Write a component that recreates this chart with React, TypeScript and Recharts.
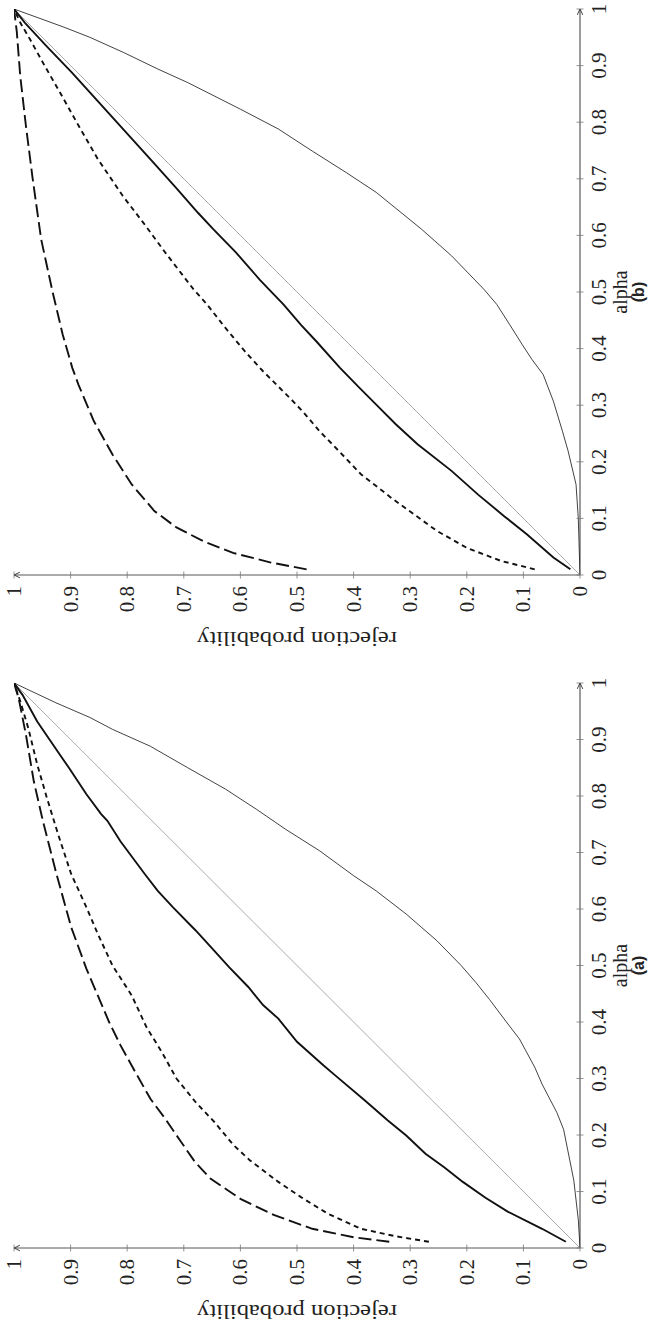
import React from 'react';
import { LineChart, Line, XAxis, YAxis } from 'recharts';

// ---------- tick values ----------
const TICKS = [0, 0.1, 0.2, 0.3, 0.4, 0.5, 0.6, 0.7, 0.8, 0.9, 1];

// ---------- panel (a) ----------
const diagAlpha = [0, 1];
const diagRej = [0, 1];

const thinA_alpha = [0, 0.05, 0.12, 0.21, 0.24, 0.29, 0.32, 0.37, 0.4, 0.44, 0.47, 0.5, 0.544, 0.591, 0.632, 0.659, 0.703, 0.741, 0.776, 0.812, 0.85, 0.888, 0.918, 0.939, 0.965, 1];
const thinA_rej = [0, 0.003, 0.011, 0.029, 0.041, 0.067, 0.08, 0.107, 0.13, 0.16, 0.184, 0.21, 0.253, 0.307, 0.36, 0.4, 0.46, 0.52, 0.571, 0.626, 0.693, 0.759, 0.826, 0.866, 0.926, 1];

const thickA_alpha = [0.011, 0.034, 0.064, 0.089, 0.117, 0.143, 0.167, 0.199, 0.226, 0.261, 0.306, 0.323, 0.365, 0.406, 0.43, 0.462, 0.497, 0.526, 0.562, 0.603, 0.632, 0.662, 0.72, 0.756, 0.768, 0.803, 0.85, 0.876, 0.932, 0.979, 1];
const thickA_rej = [0.025, 0.067, 0.127, 0.167, 0.207, 0.24, 0.273, 0.307, 0.34, 0.38, 0.433, 0.453, 0.5, 0.533, 0.56, 0.586, 0.62, 0.646, 0.679, 0.719, 0.746, 0.769, 0.812, 0.835, 0.846, 0.872, 0.903, 0.921, 0.959, 0.985, 1];

const dotA_alpha = [0.011, 0.021, 0.034, 0.061, 0.09, 0.117, 0.155, 0.182, 0.223, 0.258, 0.3, 0.347, 0.391, 0.447, 0.5, 0.556, 0.603, 0.662, 0.732, 0.797, 0.856, 0.921, 0.968, 1];
const dotA_rej = [0.267, 0.327, 0.387, 0.446, 0.493, 0.533, 0.583, 0.612, 0.646, 0.679, 0.713, 0.739, 0.766, 0.792, 0.826, 0.852, 0.872, 0.899, 0.922, 0.942, 0.959, 0.975, 0.989, 1];

const dashA_alpha = [0.011, 0.019, 0.034, 0.058, 0.087, 0.123, 0.152, 0.188, 0.229, 0.264, 0.312, 0.359, 0.4, 0.447, 0.494, 0.568, 0.662, 0.756, 0.826, 0.909, 0.974, 1];
const dashA_rej = [0.337, 0.4, 0.473, 0.54, 0.6, 0.653, 0.68, 0.705, 0.733, 0.759, 0.786, 0.812, 0.832, 0.852, 0.872, 0.899, 0.925, 0.949, 0.965, 0.979, 0.992, 1];

// ---------- panel (b) ----------
const thinB_alpha = [0, 0.1, 0.16, 0.219, 0.254, 0.307, 0.354, 0.381, 0.407, 0.442, 0.478, 0.505, 0.564, 0.611, 0.676, 0.711, 0.749, 0.788, 0.823, 0.87, 0.894, 0.923, 0.95, 0.968, 1];
const thinB_rej = [0, 0.003, 0.007, 0.021, 0.031, 0.047, 0.065, 0.085, 0.102, 0.124, 0.147, 0.17, 0.227, 0.28, 0.36, 0.413, 0.473, 0.533, 0.6, 0.693, 0.746, 0.806, 0.866, 0.912, 1];

const thickB_alpha = [0.01, 0.031, 0.072, 0.104, 0.142, 0.184, 0.231, 0.266, 0.301, 0.331, 0.366, 0.413, 0.442, 0.478, 0.505, 0.522, 0.57, 0.611, 0.64, 0.682, 0.729, 0.773, 0.835, 0.888, 0.935, 0.976, 1];
const thickB_rej = [0.017, 0.047, 0.094, 0.134, 0.18, 0.227, 0.287, 0.325, 0.36, 0.39, 0.424, 0.466, 0.493, 0.524, 0.55, 0.566, 0.608, 0.648, 0.675, 0.712, 0.754, 0.794, 0.85, 0.898, 0.943, 0.981, 1];

const dotB_alpha = [0.01, 0.025, 0.048, 0.078, 0.107, 0.136, 0.178, 0.219, 0.254, 0.289, 0.31, 0.36, 0.395, 0.436, 0.478, 0.505, 0.57, 0.623, 0.67, 0.735, 0.794, 0.853, 0.9, 0.947, 0.976, 1];
const dotB_rej = [0.08, 0.14, 0.2, 0.253, 0.293, 0.333, 0.387, 0.426, 0.46, 0.49, 0.51, 0.56, 0.592, 0.626, 0.659, 0.683, 0.733, 0.772, 0.808, 0.852, 0.886, 0.919, 0.946, 0.972, 0.989, 1];

const dashB_alpha = [0.01, 0.022, 0.039, 0.06, 0.084, 0.113, 0.16, 0.213, 0.272, 0.336, 0.366, 0.425, 0.501, 0.593, 0.7, 0.794, 0.882, 0.959, 1];
const dashB_rej = [0.483, 0.546, 0.613, 0.666, 0.713, 0.752, 0.792, 0.826, 0.859, 0.886, 0.897, 0.914, 0.932, 0.952, 0.967, 0.979, 0.989, 0.995, 1];

const toPts = (xs: number[], ys: number[]) => xs.map((x, i) => ({ x, y: ys[i] }));

const SERIF = '"Liberation Serif", "DejaVu Serif", serif';
const SANS = '"Liberation Sans", Arial, sans-serif';
const fmt = (v: number) => String(Number(v.toFixed(1)));

const XTick = (props: any) => {
  const { x, y, payload } = props;
  const axisY = y - 11;
  return (
    <g>
      <line x1={x} x2={x} y1={axisY - 3.5} y2={axisY + 3.5} stroke="#777" strokeWidth={0.8} />
      <text x={x} y={y} textAnchor="middle" dominantBaseline="hanging" fontFamily={SERIF} fontSize={21} fill="#222">
        {fmt(payload.value)}
      </text>
    </g>
  );
};

const YTick = (props: any) => {
  const { x, y, payload } = props;
  const axisX = x + 11;
  return (
    <g>
      <line x1={axisX - 3.5} x2={axisX + 3.5} y1={y} y2={y} stroke="#777" strokeWidth={0.8} />
      <text x={x} y={y} textAnchor="end" dominantBaseline="central" fontFamily={SERIF} fontSize={21} fill="#222">
        {fmt(payload.value)}
      </text>
    </g>
  );
};

type PanelProps = {
  id: string;
  caption: string;
  width: number;
  margin: { top: number; right: number; bottom: number; left: number };
  thin: { x: number; y: number }[];
  thick: { x: number; y: number }[];
  dot: { x: number; y: number }[];
  dash: { x: number; y: number }[];
};

const Panel = ({ id, caption, width, margin, thin, thick, dot, dash }: PanelProps) => {
  const diag = toPts(diagAlpha, diagRej);
  const XLabel = (p: any) => {
    const vb = p.viewBox || {};
    const cx = vb.x + vb.width / 2;
    const ay = vb.y;
    return (
      <g>
        <text x={cx} y={ay + 40} textAnchor="middle" dominantBaseline="central" fontFamily={SERIF} fontSize={20} fill="#222">
          alpha
        </text>
        <text x={cx} y={ay + 58} textAnchor="middle" dominantBaseline="central" fontFamily={SANS} fontWeight="bold" fontSize={16} fill="#222">
          {caption}
        </text>
      </g>
    );
  };
  const YLabel = (p: any) => {
    const vb = p.viewBox || {};
    const cx = vb.x + vb.width - 64;
    const cy = vb.y + vb.height / 2;
    return (
      <text
        x={cx}
        y={cy}
        transform={`rotate(-90, ${cx}, ${cy})`}
        textAnchor="middle"
        dominantBaseline="central"
        fontFamily={SERIF}
        fontSize={20}
        fill="#222"
        textLength={200}
        lengthAdjust="spacingAndGlyphs"
      >
        rejection probability
      </text>
    );
  };
  return (
    <LineChart width={width} height={663} margin={margin}>
      <defs>
        <marker id={`arr-${id}`} viewBox="0 0 10 10" refX="9.5" refY="5" markerWidth="7" markerHeight="7" markerUnits="userSpaceOnUse" orient="auto-start-reverse">
          <path d="M1,1 L9.5,5 L1,9" fill="none" stroke="#222" strokeWidth={1.2} />
        </marker>
      </defs>
      <XAxis
        type="number"
        dataKey="x"
        domain={[0, 1]}
        ticks={TICKS}
        allowDataOverflow
        height={60}
        tickSize={0}
        tickMargin={11}
        tickLine={false}
        tick={<XTick />}
        interval={0}
        axisLine={{ stroke: '#222', strokeWidth: 0.9, markerEnd: `url(#arr-${id})` } as any}
        label={{ content: XLabel } as any}
      />
      <YAxis
        type="number"
        dataKey="y"
        domain={[0, 1]}
        ticks={TICKS}
        allowDataOverflow
        width={60}
        tickSize={0}
        tickMargin={11}
        tickLine={false}
        tick={<YTick />}
        interval={0}
        axisLine={{ stroke: '#444', strokeWidth: 0.9, markerStart: `url(#arr-${id})` } as any}
        label={{ content: YLabel } as any}
      />
      <Line data={diag} dataKey="y" type="linear" stroke="#a0a0a0" strokeWidth={0.9} dot={false} isAnimationActive={false} />
      <Line data={thin} dataKey="y" type="linear" stroke="#111" strokeWidth={0.8} dot={false} isAnimationActive={false} />
      <Line data={thick} dataKey="y" type="linear" stroke="#111" strokeWidth={1.9} dot={false} isAnimationActive={false} />
      <Line data={dot} dataKey="y" type="linear" stroke="#111" strokeWidth={1.9} strokeDasharray="5 4" dot={false} isAnimationActive={false} />
      <Line data={dash} dataKey="y" type="linear" stroke="#111" strokeWidth={1.9} strokeDasharray="13 5" dot={false} isAnimationActive={false} />
    </LineChart>
  );
};

export default function App() {
  return (
    <div style={{ position: 'absolute', left: 0, top: 0, width: 663, height: 1331, overflow: 'hidden', background: '#fff' }}>
      <div
        style={{
          position: 'absolute',
          left: 0,
          top: 0,
          width: 1331,
          height: 663,
          display: 'flex',
          transformOrigin: '0 0',
          transform: 'translateY(1331px) rotate(-90deg)',
        }}
      >
        <Panel
          id="a"
          caption="(a)"
          width={665}
          margin={{ top: 14, right: 17, bottom: 23, left: 23 }}
          thin={toPts(thinA_alpha, thinA_rej)}
          thick={toPts(thickA_alpha, thickA_rej)}
          dot={toPts(dotA_alpha, dotA_rej)}
          dash={toPts(dashA_alpha, dashA_rej)}
        />
        <Panel
          id="b"
          caption="(b)"
          width={666}
          margin={{ top: 14, right: 9, bottom: 23, left: 31 }}
          thin={toPts(thinB_alpha, thinB_rej)}
          thick={toPts(thickB_alpha, thickB_rej)}
          dot={toPts(dotB_alpha, dotB_rej)}
          dash={toPts(dashB_alpha, dashB_rej)}
        />
      </div>
    </div>
  );
}
